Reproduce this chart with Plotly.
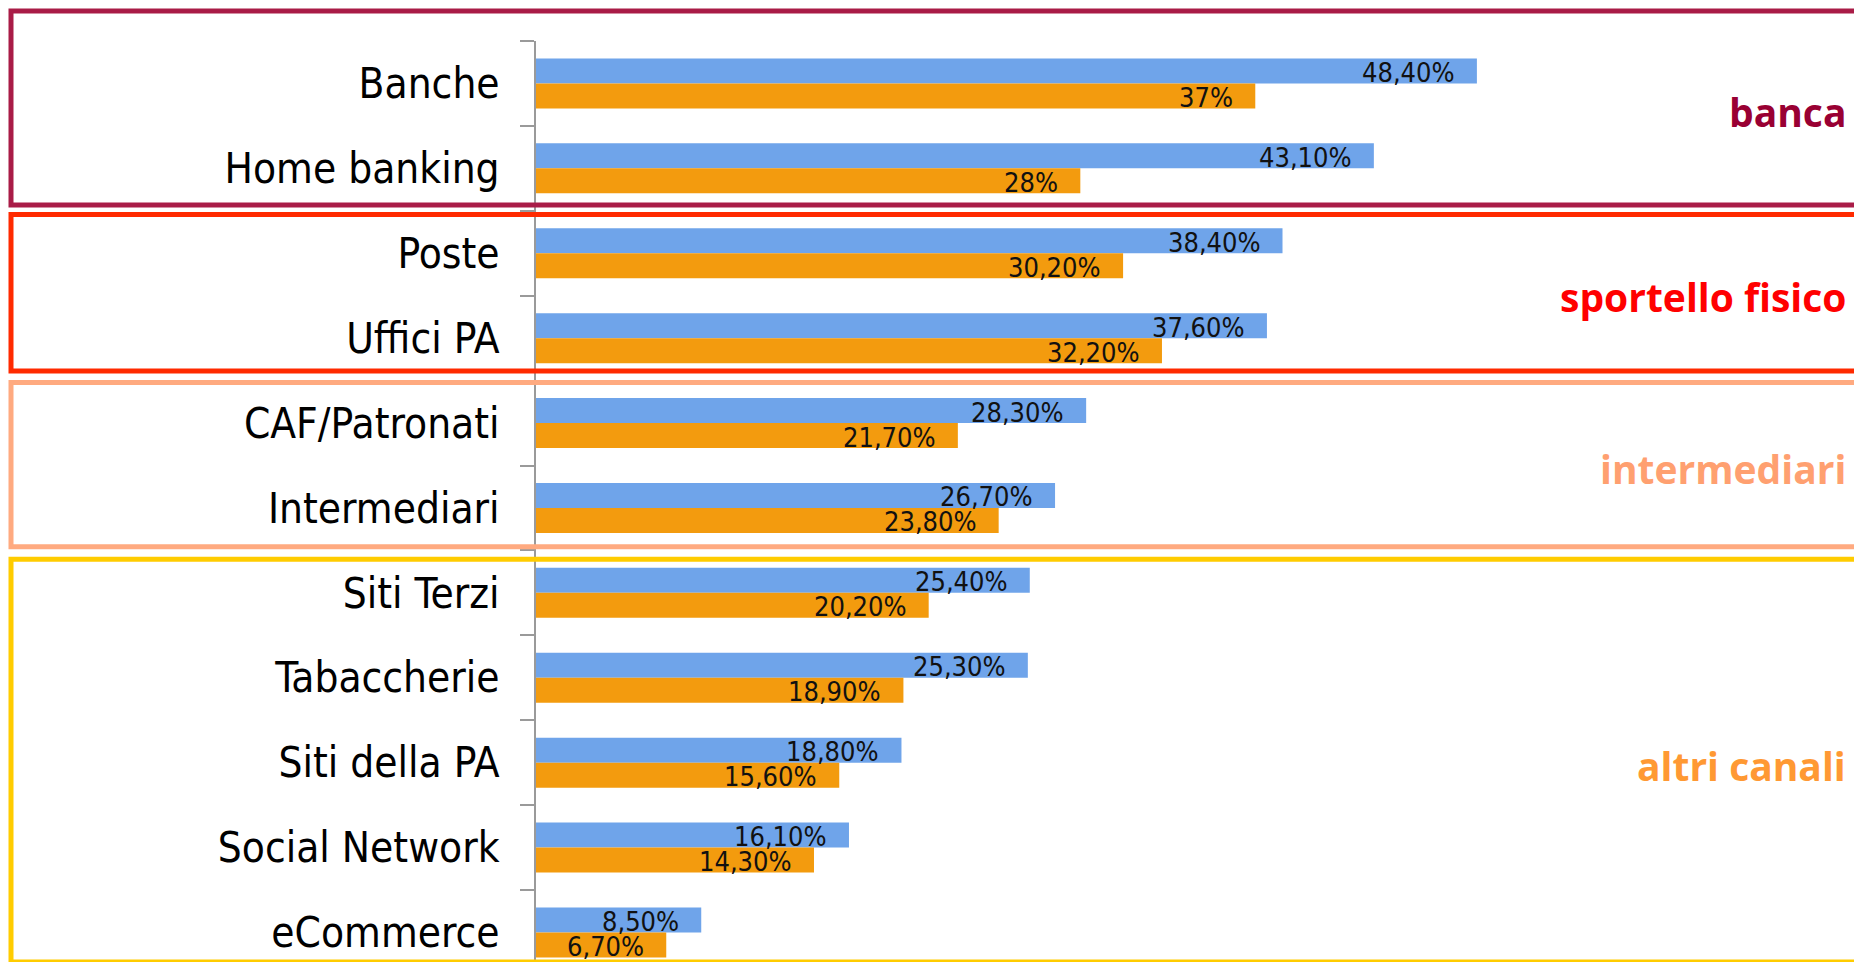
import plotly.graph_objects as go

# ---------------- data ----------------
categories = ["Banche", "Home banking", "Poste", "Uffici PA", "CAF/Patronati",
              "Intermediari", "Siti Terzi", "Tabaccherie", "Siti della PA",
              "Social Network", "eCommerce"]
serie_blu = [48.4, 43.1, 38.4, 37.6, 28.3, 26.7, 25.4, 25.3, 18.8, 16.1, 8.5]
serie_arancio = [37, 28, 30.2, 32.2, 21.7, 23.8, 20.2, 18.9, 15.6, 14.3, 6.7]

group_names = ["banca", "sportello fisico", "intermediari", "altri canali"]

# ---------------- style ----------------
W, H = 1854, 962
ML, MT = 536, 41
PW, PH = W - ML, H - MT
CAT_PX = 84.9
PX_PER_UNIT = 19.44

BLUE = "#6fa4ea"
ORANGE = "#f39b0e"
group_text_colors = ["#990033", "#ff0000", "#ffa070", "#ff9933"]
group_box_colors = ["#a91c47", "#ff2a00", "#ffaa80", "#ffcc00"]
group_box_px = [(11, 205), (214.5, 371), (382.5, 546.7), (559.3, 962)]
group_label_px = [111, 296, 468, 765]

LABEL_FONT = "Liberation Sans Narrow, DejaVu Sans Condensed, Liberation Sans, sans-serif"
GROUP_FONT = "Open Sans, Noto Sans, sans-serif"


def px_x(x):
    return (x - ML) / PW


def px_y(y):
    return (H - y) / PH


def fmt(v):
    if float(v).is_integer():
        return f"{int(v)}%"
    return f"{v:.2f}".replace(".", ",") + "%"


fig = go.Figure()
fig.add_trace(go.Bar(y=categories, x=serie_blu, orientation="h", name="Serie 1",
                     marker=dict(color=BLUE, line=dict(width=0)), showlegend=False))
fig.add_trace(go.Bar(y=categories, x=serie_arancio, orientation="h", name="Serie 2",
                     marker=dict(color=ORANGE, line=dict(width=0)), showlegend=False))

annotations = []
for cat, vb, vo in zip(categories, serie_blu, serie_arancio):
    annotations.append(dict(x=vb, y=cat, xref="x", yref="y", text=fmt(vb),
                            showarrow=False, xanchor="right", yanchor="middle",
                            xshift=-20, yshift=11,
                            font=dict(family=LABEL_FONT, size=27, color="#111111")))
    annotations.append(dict(x=vo, y=cat, xref="x", yref="y", text=fmt(vo),
                            showarrow=False, xanchor="right", yanchor="middle",
                            xshift=-20, yshift=-14,
                            font=dict(family=LABEL_FONT, size=27, color="#111111")))

shapes = []
for (y0, y1), col in zip(group_box_px, group_box_colors):
    shapes.append(dict(type="rect", xref="paper", yref="paper",
                       x0=px_x(11), x1=px_x(1870), y0=px_y(y1), y1=px_y(y0),
                       line=dict(color=col, width=5), fillcolor="rgba(0,0,0,0)",
                       layer="above"))

for name, yc, col in zip(group_names, group_label_px, group_text_colors):
    annotations.append(dict(x=px_x(1848), y=px_y(yc), xref="paper", yref="paper",
                            text=f"<b>{name}</b>", showarrow=False,
                            xanchor="right", yanchor="middle",
                            font=dict(family=GROUP_FONT, size=39, color=col)))

visible_cats = PH / CAT_PX
fig.update_layout(
    width=W, height=H,
    margin=dict(l=ML, r=0, t=MT, b=0, pad=0),
    paper_bgcolor="white", plot_bgcolor="white",
    barmode="group", bargap=1 - 50 / CAT_PX, bargroupgap=0,
    annotations=annotations, shapes=shapes,
    xaxis=dict(range=[0, PW / PX_PER_UNIT], visible=False, fixedrange=True),
    yaxis=dict(type="category", categoryorder="array", categoryarray=categories,
               range=[visible_cats - 0.5, -0.5], autorange=False,
               showline=True, linecolor="#9a9a9a", linewidth=2,
               ticks="outside", tickson="boundaries", ticklen=14,
               tickcolor="#9a9a9a", tickwidth=2, ticklabelstandoff=26,
               showgrid=False, zeroline=False, automargin=False,
               tickfont=dict(family=LABEL_FONT, size=42, color="#000000")),
)

fig.write_html("out.html", config={"displayModeBar": False},
               post_script="document.body.style.margin='0';document.body.style.overflow='hidden';")
